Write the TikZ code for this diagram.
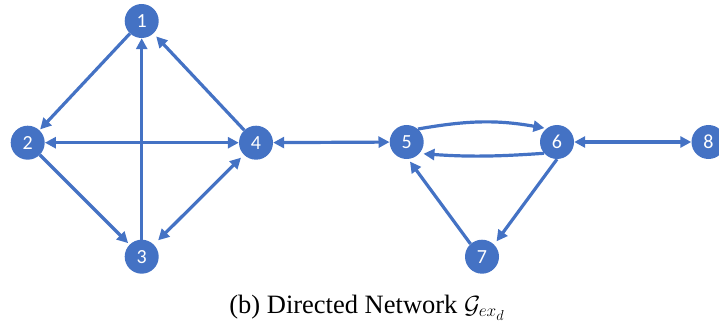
\documentclass[tikz,border=0pt]{standalone}
\usepackage{fontspec}
\setmainfont{Liberation Serif}
\newfontfamily\numfont{Carlito}
\usetikzlibrary{arrows.meta}
\definecolor{nodeblue}{HTML}{4472C4}
\begin{document}
\begin{tikzpicture}[x=1pt,y=1pt,
  vertex/.style={circle,fill=nodeblue,minimum size=34pt,inner sep=0pt,
    text=white,font=\numfont\fontsize{20}{20}\selectfont},
  link/.style={draw=nodeblue,line width=3.2pt,-{Triangle[length=11pt,width=11pt]}},
  both/.style={draw=nodeblue,line width=3.2pt,
    {Triangle[length=11pt,width=11pt]}-{Triangle[length=11pt,width=11pt]}}]
\useasboundingbox (0,0) rectangle (719,327);

% vertices
\node[vertex] (n1) at (141.7,306)   {1};
\node[vertex] (n2) at (27.7,184.3)  {2};
\node[vertex] (n3) at (141.7,70.3)  {3};
\node[vertex] (n4) at (256,184.3)   {4};
\node[vertex] (n5) at (406.7,185)   {5};
\node[vertex] (n6) at (557,185)     {6};
\node[vertex] (n7) at (482,70.3)    {7};
\node[vertex] (n8) at (708.5,185)   {8};

% left component
\draw[link,shorten >=1pt] (n1) -- (n2);
\draw[link,shorten >=4pt] (n4) -- (n1);
\draw[link] (n3) -- (n1);
\draw[link,shorten >=2pt] (n2) -- (n3);
\draw[both] (n2) -- (n4);
\draw[both,shorten >=4pt,shorten <=6pt] (n3) -- (n4);

% bridge
\draw[both] (n4) -- (n5);

% right component
\draw[link,shorten >=2pt] (n5.49) to[out=10,in=170] (n6.128);
\draw[link,shorten >=4pt] (n6.221) to[out=184,in=-4] (n5.-42);
\draw[link,shorten >=4pt] (n6.-90) -- (n7.45);
\draw[link,shorten >=3pt] (n7.132) -- (n5.-85);
\draw[both] (n6) -- (n8);

% caption
\node[anchor=base,font=\fontsize{26.5}{30}\selectfont] (cap) at (367,14)
  {(b) Directed Network $\mathcal{G}_{ex_d}$};
\end{tikzpicture}
\end{document}
